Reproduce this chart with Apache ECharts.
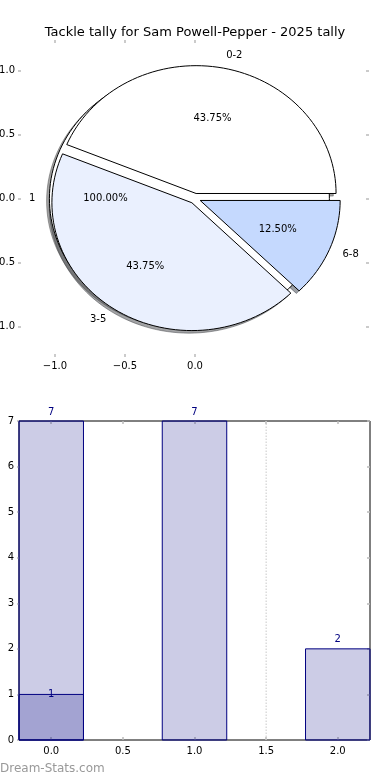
<!DOCTYPE html>
<html><head><meta charset="utf-8">
<script src="https://cdn.jsdelivr.net/npm/echarts@6/dist/echarts.min.js"></script>
<style>html,body{margin:0;padding:0;background:#fff}#c{width:390px;height:780px}</style>
</head><body><div id="c"></div>
<script>
const titleText = 'Tackle tally for Sam Powell-Pepper - 2025 tally';
const categories = ['0-2', '3-5', '6-8'];
const tallyValues = [7, 7, 2];
const extraLabels = ['1'];
const extraValues = [1];
const barPositions = [0, 1, 2];
const extraPositions = [0];
const pieXTicks = [-1, -0.5, 0];
const pieYTicks = [-1, -0.5, 0, 0.5, 1];
const barXTicks = [0, 0.5, 1, 1.5, 2];
const barYTicks = [0, 1, 2, 3, 4, 5, 6, 7];
const dividerX = [1.5];
const watermark = 'Dream-Stats.com';

const sliceColors = ['#ffffff', '#eaf0fe', '#c5d9fe'];
const extraColors = ['#ffffff'];
const EXPLODE = 0.04;
const FONT = 'DejaVu Sans';
const TAU = Math.PI * 2;

function buildPie(values, labels, colors) {
  const total = values.reduce((a, b) => a + b, 0);
  let a = 0;
  return values.map((v, i) => {
    const a0 = a; a += v / total * TAU; const a1 = a;
    const mid = (a0 + a1) / 2;
    return { a0, a1, mid, cx: EXPLODE * Math.cos(mid), cy: EXPLODE * Math.sin(mid),
      label: labels[i], pct: (v / total * 100).toFixed(2) + '%', color: colors[i],
      full: (a1 - a0) >= TAU - 1e-9 };
  });
}
const extraPie = buildPie(extraValues, extraLabels, extraColors);
const mainPie = buildPie(tallyValues, categories, sliceColors);
const allWedges = extraPie.concat(mainPie);

function wedgePts(api, w, dx, dy) {
  const pts = [];
  if (!w.full) pts.push(api.coord([w.cx + dx, w.cy + dy]));
  const n = Math.max(10, Math.ceil(160 * (w.a1 - w.a0) / TAU));
  for (let k = 0; k <= n; k++) {
    const a = w.a0 + (w.a1 - w.a0) * k / n;
    pts.push(api.coord([w.cx + dx + Math.cos(a), w.cy + dy + Math.sin(a)]));
  }
  return pts;
}
function shadowColor(hex) {
  const r = parseInt(hex.slice(1, 3), 16), g = parseInt(hex.slice(3, 5), 16), b = parseInt(hex.slice(5, 7), 16);
  return 'rgba(' + Math.round(r * 0.3) + ',' + Math.round(g * 0.3) + ',' + Math.round(b * 0.3) + ',0.5)';
}

function pieShadowItem(params, api) {
  const w = allWedges[params.dataIndex];
  return { type: 'polygon', shape: { points: wedgePts(api, w, -0.02, -0.02) },
    style: { fill: shadowColor(w.color), stroke: shadowColor(w.color), lineWidth: 1 } };
}
function makeWedgeItem(list) {
  return function (params, api) {
    const w = list[params.dataIndex];
    return { type: 'polygon', shape: { points: wedgePts(api, w, 0, 0) },
      style: { fill: w.color, stroke: '#000', lineWidth: 1, lineJoin: 'miter' } };
  };
}
function pieLabelItem(params, api) {
  const w = allWedges[params.dataIndex];
  const lx = w.cx + 1.1 * Math.cos(w.mid), ly = w.cy + 1.1 * Math.sin(w.mid);
  const px = w.cx + 0.6 * Math.cos(w.mid), py = w.cy + 0.6 * Math.sin(w.mid);
  const lp = api.coord([lx, ly]), pp = api.coord([px, py]);
  return { type: 'group', children: [
    { type: 'text', style: { text: w.label, x: lp[0], y: lp[1], fill: '#000', font: '10px ' + FONT,
      align: lx < 0 ? 'right' : 'left', verticalAlign: 'middle' } },
    { type: 'text', style: { text: w.pct, x: pp[0], y: pp[1], fill: '#000', font: '10px ' + FONT,
      align: 'center', verticalAlign: 'middle' } }
  ] };
}

const HALF = 0.225;
function makeBarItem(fill, labelDy) {
  return function (params, api) {
    const x = api.value(0), v = api.value(1);
    const p0 = api.coord([x - HALF, v]), p1 = api.coord([x + HALF, 0]);
    const top = api.coord([x, v]);
    return { type: 'group', children: [
      { type: 'rect', shape: { x: p0[0], y: p0[1], width: p1[0] - p0[0], height: p1[1] - p0[1] },
        style: { fill: fill, stroke: '#000080', lineWidth: 1 } },
      { type: 'text', z2: 10, style: { text: String(v), x: top[0], y: top[1] + labelDy, fill: '#000080',
        font: '10px ' + FONT, align: 'center', verticalAlign: 'middle' } }
    ] };
  };
}

const tickStyle = { lineStyle: { color: '#bbbbbb', width: 1.5 } };
const noLine = { show: false, onZero: false };
const pieFmt = v => (v < 0 ? '\u2212' : '') + Math.abs(v).toFixed(1);

const chart = echarts.init(document.getElementById('c'), null, { renderer: 'canvas' });
chart.setOption({
  animation: false,
  backgroundColor: '#fff',
  title: { text: titleText, left: 'center', top: 21,
    textStyle: { fontFamily: FONT, fontSize: 13, fontWeight: 'normal', color: '#000' } },
  graphic: [{ type: 'text', left: 0, top: 763,
    style: { text: watermark, fill: '#999999', font: '12px ' + FONT } }],
  grid: [
    { left: 21, right: 21, top: 40, bottom: 423, show: false, containLabel: false, outerBoundsMode: 'none' },
    { left: 19, right: 20, top: 421, bottom: 40, show: true, borderColor: '#000', borderWidth: 1,
      backgroundColor: 'transparent', containLabel: false, outerBoundsMode: 'none' }
  ],
  xAxis: [
    { type: 'value', gridIndex: 0, min: -1.243, max: 1.243, position: 'bottom',
      axisLine: noLine, splitLine: { show: false },
      axisTick: { show: true, inside: true, length: 3, customValues: pieXTicks, ...tickStyle },
      axisLabel: { customValues: pieXTicks, formatter: pieFmt, margin: 4, color: '#000', fontFamily: FONT, fontSize: 10 } },
    { type: 'value', gridIndex: 0, min: -1.243, max: 1.243, position: 'top',
      axisLine: noLine, splitLine: { show: false },
      axisTick: { show: true, inside: true, length: 3, customValues: pieXTicks, ...tickStyle },
      axisLabel: { show: false } },
    { type: 'value', gridIndex: 1, min: -0.225, max: 2.225, position: 'bottom',
      axisLine: noLine, splitLine: { show: false },
      axisTick: { show: true, inside: true, length: 3, customValues: barXTicks, ...tickStyle },
      axisLabel: { customValues: barXTicks, formatter: v => v.toFixed(1), margin: 6, color: '#000', fontFamily: FONT, fontSize: 10 } },
    { type: 'value', gridIndex: 1, min: -0.225, max: 2.225, position: 'top',
      axisLine: noLine, splitLine: { show: false },
      axisTick: { show: true, inside: true, length: 3, customValues: barXTicks, ...tickStyle },
      axisLabel: { show: false } }
  ],
  yAxis: [
    { type: 'value', gridIndex: 0, min: -1.24, max: 1.24, position: 'left',
      axisLine: noLine, splitLine: { show: false },
      axisTick: { show: true, inside: false, length: 3, customValues: pieYTicks, ...tickStyle },
      axisLabel: { customValues: pieYTicks, formatter: pieFmt, margin: 6, color: '#000', fontFamily: FONT, fontSize: 10 } },
    { type: 'value', gridIndex: 0, min: -1.24, max: 1.24, position: 'right',
      axisLine: noLine, splitLine: { show: false },
      axisTick: { show: true, inside: true, length: 3, customValues: pieYTicks, ...tickStyle },
      axisLabel: { show: false } },
    { type: 'value', gridIndex: 1, min: 0, max: 7, interval: 1, position: 'left',
      axisLine: noLine, splitLine: { show: false },
      axisTick: { show: true, inside: false, length: 2, ...tickStyle },
      axisLabel: { customValues: barYTicks, margin: 5, color: '#000', fontFamily: FONT, fontSize: 10 } },
    { type: 'value', gridIndex: 1, min: 0, max: 7, interval: 1, position: 'right',
      axisLine: noLine, splitLine: { show: false },
      axisTick: { show: true, inside: true, length: 3, ...tickStyle },
      axisLabel: { show: false } }
  ],
  series: [
    { type: 'custom', xAxisIndex: 0, yAxisIndex: 0, z: 2, silent: true,
      data: allWedges.map((w, i) => [i]), renderItem: pieShadowItem },
    { type: 'custom', xAxisIndex: 0, yAxisIndex: 0, z: 3, silent: true,
      data: extraPie.map((w, i) => [i]), renderItem: makeWedgeItem(extraPie) },
    { type: 'custom', xAxisIndex: 0, yAxisIndex: 0, z: 4, silent: true,
      data: mainPie.map((w, i) => [i]), renderItem: makeWedgeItem(mainPie) },
    { type: 'custom', xAxisIndex: 0, yAxisIndex: 0, z: 5, silent: true,
      data: allWedges.map((w, i) => [i]), renderItem: pieLabelItem },
    { type: 'line', xAxisIndex: 2, yAxisIndex: 2, z: 1, silent: true, symbol: 'none',
      data: [[dividerX[0], 0], [dividerX[0], 7]],
      lineStyle: { color: '#c8c8c8', width: 1, type: [1.5, 1.5] } },
    { type: 'custom', xAxisIndex: 2, yAxisIndex: 2, z: 3, silent: true,
      data: barPositions.map((x, i) => [x, tallyValues[i]]), renderItem: makeBarItem('rgba(0,0,128,0.2)', -9) },
    { type: 'custom', xAxisIndex: 2, yAxisIndex: 2, z: 4, silent: true,
      data: extraPositions.map((x, i) => [x, extraValues[i]]), renderItem: makeBarItem('rgba(0,0,128,0.2)', 0) }
  ]
});
</script>
</body></html>
